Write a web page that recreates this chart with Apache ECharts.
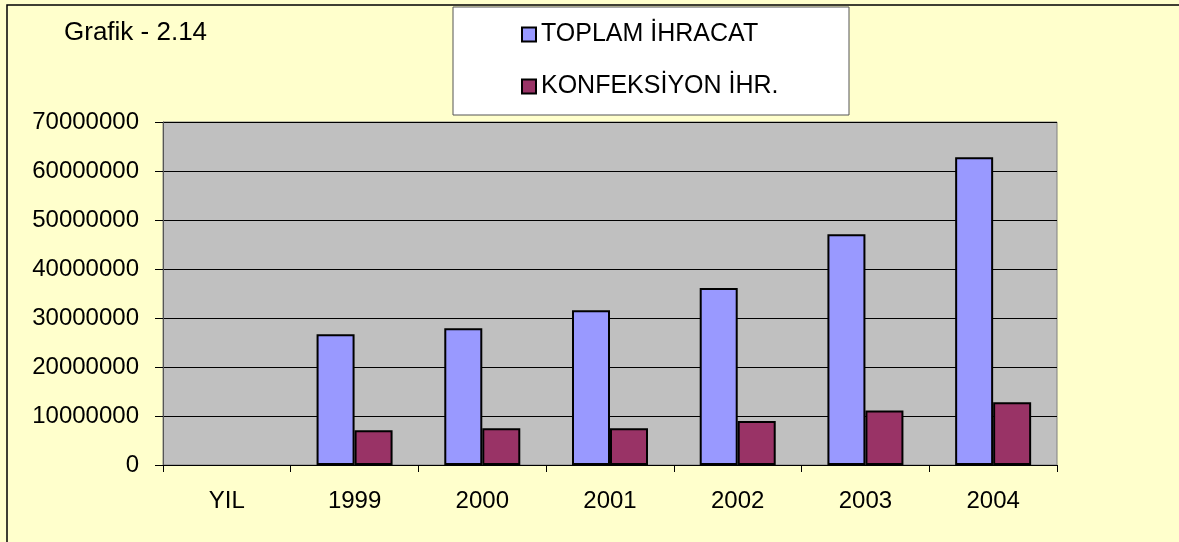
<!DOCTYPE html>
<html>
<head>
<meta charset="utf-8">
<script src="https://cdn.jsdelivr.net/npm/echarts@6/dist/echarts.min.js"></script>
<style>
  html, body { margin: 0; padding: 0; background: #ffffcc; }
  #chart { width: 1179px; height: 542px; }
</style>
</head>
<body>
<div id="chart"></div>
<script>
  const categories = ['YIL', '1999', '2000', '2001', '2002', '2003', '2004'];
  const toplamIhracat = [null, 26700000, 27900000, 31600000, 36100000, 47100000, 62800000];
  const konfeksiyonIhr = [null, 7100000, 7500000, 7500000, 9000000, 11100000, 12800000];
  const yTicks = [0, 10000000, 20000000, 30000000, 40000000, 50000000, 60000000, 70000000];

  const font = '"Liberation Sans", Arial, sans-serif';
  const chart = echarts.init(document.getElementById('chart'));

  chart.setOption({
    backgroundColor: '#ffffcc',
    animation: false,
    textStyle: { fontFamily: font },
    graphic: [
      {
        // outer chart area border (left and top)
        type: 'polyline',
        shape: { points: [[7, 542], [7, 5], [1179, 5]] },
        style: { stroke: '#000', lineWidth: 1.5, fill: null },
        silent: true,
      },
      {
        // legend box
        type: 'rect',
        shape: { x: 453, y: 7, width: 396, height: 108 },
        style: { fill: '#fff', stroke: '#555', lineWidth: 1 },
        z: -1,
        silent: true,
      },
      {
        type: 'text',
        left: 64,
        top: 20,
        style: { text: 'Grafik - 2.14', fontSize: 26, fill: '#000', fontFamily: font },
      },
    ],
    legend: {
      orient: 'vertical',
      left: 516,
      top: 17,
      itemGap: 27,
      icon: 'rect',
      itemWidth: 14,
      itemHeight: 14,
      textStyle: { fontSize: 25, color: '#000', fontFamily: font },
      data: ['TOPLAM İHRACAT', 'KONFEKSİYON İHR.'],
    },
    grid: {
      left: 163,
      right: 122,
      top: 122,
      bottom: 77,
      show: true,
      backgroundColor: '#c0c0c0',
      borderColor: '#808080',
      borderWidth: 1,
    },
    xAxis: {
      type: 'category',
      data: categories,
      axisLine: { lineStyle: { color: '#000', width: 1 } },
      axisTick: { show: true, length: 7, lineStyle: { color: '#000' } },
      axisLabel: { fontSize: 24, color: '#000', margin: 24, fontFamily: font },
    },
    yAxis: {
      type: 'value',
      min: 0,
      max: 70000000,
      interval: 10000000,
      axisLine: { show: true, lineStyle: { color: '#555' } },
      axisTick: { show: true, length: 8, lineStyle: { color: '#000' } },
      axisLabel: {
        fontSize: 24,
        color: '#000',
        margin: 24,
        fontFamily: font,
        formatter: v => (yTicks.indexOf(v) >= 0 ? String(v) : ''),
      },
      splitLine: { lineStyle: { color: '#000', width: 1 } },
    },
    series: [
      {
        name: 'TOPLAM İHRACAT',
        type: 'bar',
        data: toplamIhracat,
        barWidth: 38,
        barGap: '0%',
        itemStyle: { color: '#9999ff', borderColor: '#000', borderWidth: 2 },
      },
      {
        name: 'KONFEKSİYON İHR.',
        type: 'bar',
        data: konfeksiyonIhr,
        barWidth: 38,
        barGap: '0%',
        itemStyle: { color: '#993366', borderColor: '#000', borderWidth: 2 },
      },
    ],
  });
</script>
</body>
</html>
